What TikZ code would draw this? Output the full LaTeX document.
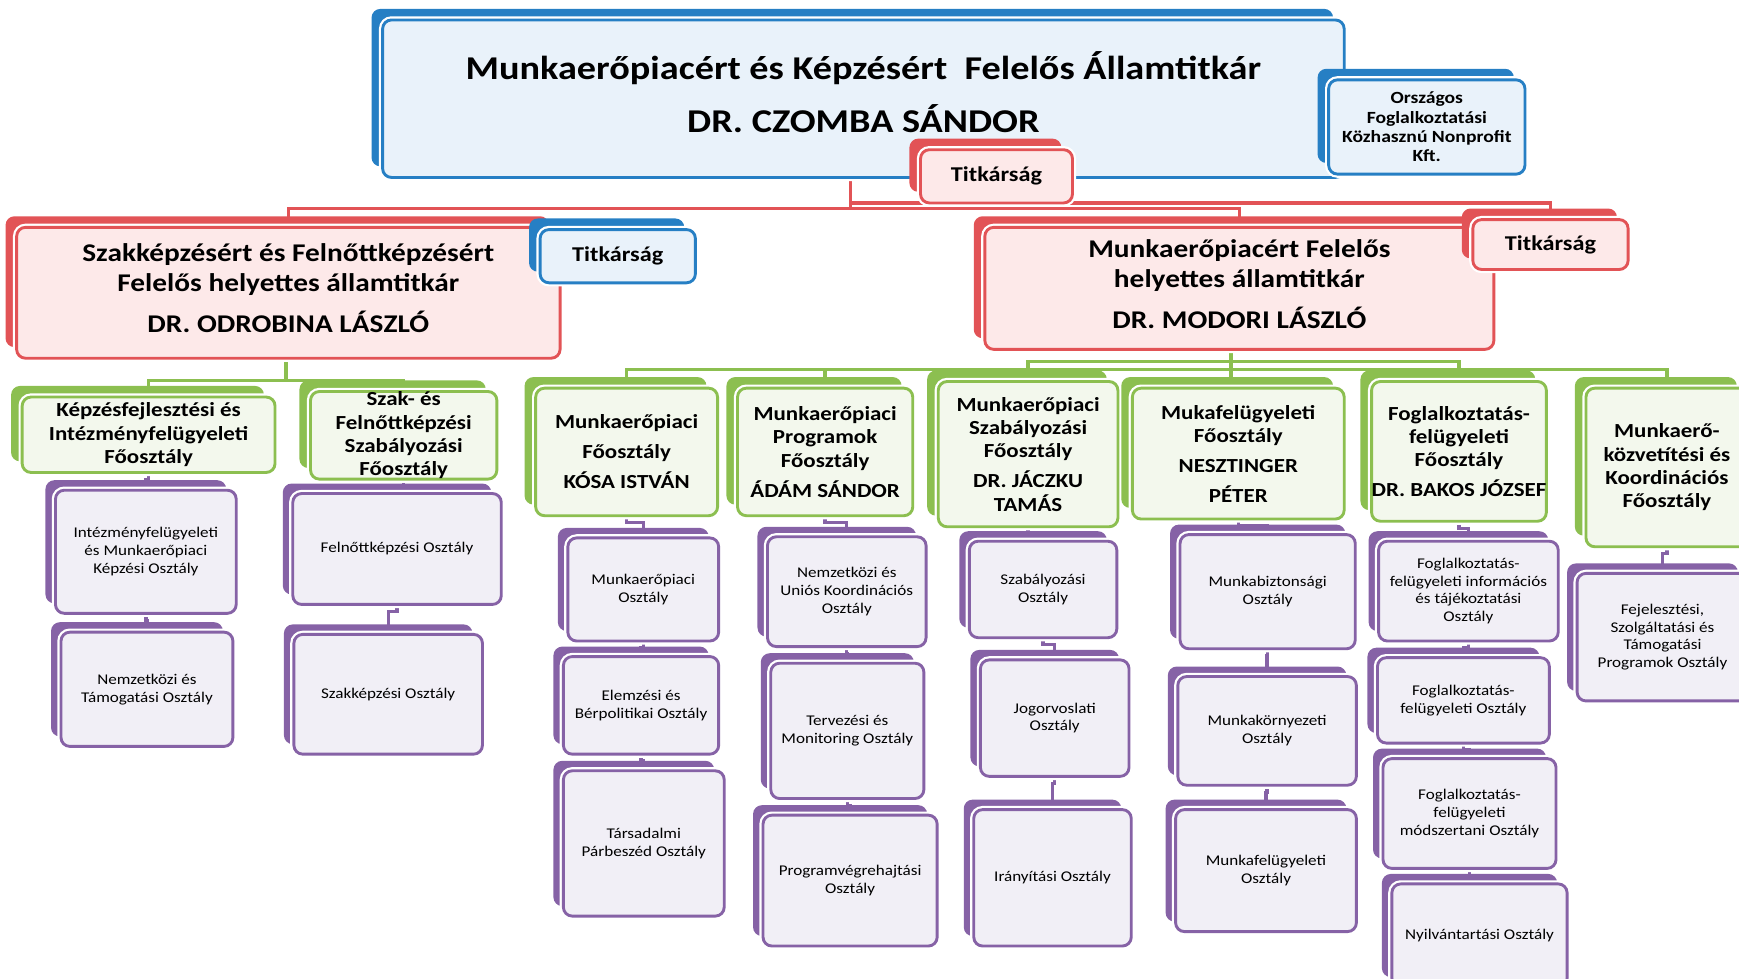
\documentclass[tikz,border=0pt]{standalone}
\usepackage{fontspec}
\setmainfont{Carlito}[FakeStretch=1.15]
\usetikzlibrary{shadows,backgrounds}

\definecolor{cblue}{RGB}{38,127,196}
\definecolor{cred}{RGB}{226,83,86}
\definecolor{cgreen}{RGB}{140,191,80}
\definecolor{cpurple}{RGB}{134,98,166}
\definecolor{fblue}{RGB}{233,242,250}
\definecolor{fred}{RGB}{253,233,233}
\definecolor{fgreen}{RGB}{243,248,237}
\definecolor{fpurple}{RGB}{241,239,246}

\tikzset{every picture/.style={line width=0.75pt}}
\tikzset{
  boxat/.style n args={4}{at={({(#1+#3)/2},{(#2+#4)/2})},
    minimum width={(#3-#1)*0.5pt}, minimum height={(#4-#2)*0.5pt}},
  box/.style={rounded corners=4pt, inner sep=0pt, align=center, line width=1.3pt,
    preaction={draw=white, line width=3.3pt}},
  bluebox/.style={general shadow={fill=cblue, shadow xshift=-5pt, shadow yshift=5pt}, box, draw=cblue, fill=fblue},
  redbox/.style={general shadow={fill=cred, shadow xshift=-5pt, shadow yshift=5pt}, box, draw=cred, fill=fred},
  greenbox/.style={general shadow={fill=cgreen, shadow xshift=-5pt, shadow yshift=5pt}, box, draw=cgreen, fill=fgreen,
    font=\fontsize{9}{10.5}\selectfont\bfseries},
  purplebox/.style={general shadow={fill=cpurple, shadow xshift=-4.5pt, shadow yshift=4.5pt}, box, draw=cpurple, fill=fpurple,
    font=\fontsize{6.7}{8}\selectfont},
  titkbox/.style={font=\fontsize{9.5}{11}\selectfont\bfseries},
  redline/.style={draw=cred, line width=1.6pt},
  greenline/.style={draw=cgreen, line width=1.6pt},
  purpleline/.style={draw=cpurple, line width=1.5pt}
}

\begin{document}
\begin{tikzpicture}[x=0.5pt,y=0.5pt,yscale=-1,xscale=1]
\useasboundingbox (0,0) rectangle (1568,882);

% Allamtitkar
\node[bluebox, boxat={345}{18}{1212}{160}, font=\fontsize{15}{24}\selectfont\bfseries] (allam) {Munkaerőpiacért és Képzésért~ Felelős Államtitkár\\ DR. CZOMBA SÁNDOR\rule[-6pt]{0pt}{6pt}};
\node[redbox, titkbox, boxat={830}{135}{967}{183}] (titk0) {Titkárság};
\node[bluebox, boxat={1198}{72}{1375}{157}, font=\fontsize{7.7}{8.7}\selectfont\bfseries] (ofk) {Országos\\ Foglalkoztatási\\ Közhasznú Nonprofit\\ Kft.};

% helyettes allamtitkarok
\node[redbox, boxat={15}{205}{505}{323}, font=\fontsize{11.5}{13.5}\selectfont\bfseries] (szfh) {Szakképzésért és Felnőttképzésért\\ Felelős helyettes államtitkár\\[5pt] DR. ODROBINA LÁSZLÓ\rule[-4pt]{0pt}{4pt}};
\node[bluebox, titkbox, boxat={487}{207}{627}{255}] (titk1) {Titkárság};
\node[redbox, boxat={888}{205}{1347}{315}, font=\fontsize{11.5}{13.5}\selectfont\bfseries] (mfh) {Munkaerőpiacért Felelős\\ helyettes államtitkár\\[5pt] DR. MODORI LÁSZLÓ\rule[-4pt]{0pt}{4pt}};
\node[redbox, titkbox, boxat={1328}{198}{1468}{243}] (titk2) {Titkárság};

% Foosztalyok
\node[greenbox, boxat={20}{358}{248}{426}] (kif) {Képzésfejlesztési és\\ Intézményfelügyeleti\\ Főosztály};
\node[greenbox, boxat={280}{353}{448}{432}] (szfsz) {Szak- és\\ Felnőttképzési\\ Szabályozási\\ Főosztály};
\node[greenbox, boxat={483}{350}{647}{465}] (mpf) {Munkaerőpiaci\\[3pt] Főosztály\\[3pt] KÓSA ISTVÁN};
\node[greenbox, boxat={665}{350}{823}{465}] (mppf) {Munkaerőpiaci\\ Programok\\ Főosztály\\[3pt] ÁDÁM SÁNDOR};
\node[greenbox, boxat={846}{344}{1008}{475}] (mszf) {Munkaerőpiaci\\ Szabályozási\\ Főosztály\\[3pt] DR. JÁCZKU\\ TAMÁS};
\node[greenbox, boxat={1021}{350}{1212}{468}] (mfef) {Mukafelügyeleti\\ Főosztály\\[3pt] NESZTINGER\\[3pt] PÉTER};
\node[greenbox, boxat={1238}{344}{1393}{470}] (ffef) {Foglalkoztatás-\\ felügyeleti\\ Főosztály\\[3pt] DR. BAKOS JÓZSEF};
\node[greenbox, boxat={1430}{350}{1576}{493}] (mkkf) {Munkaerő-\\ közvetítési és\\ Koordinációs\\ Főosztály};

% Osztalyok
\node[purplebox, boxat={50}{442}{213}{553}] (imk) {Intézményfelügyeleti\\ és Munkaerőpiaci\\ Képzési Osztály};
\node[purplebox, boxat={55}{570}{210}{673}] (ntk) {Nemzetközi és\\ Támogatási Osztály};
\node[purplebox, boxat={264}{445}{452}{545}] (fko) {Felnőttképzési Osztály};
\node[purplebox, boxat={265}{572}{435}{680}] (szko) {Szakképzési Osztály};
\node[purplebox, boxat={512}{485}{648}{578}] (mpo) {Munkaerőpiaci\\ Osztály};
\node[purplebox, boxat={508}{592}{648}{680}] (ebo) {Elemzési és\\ Bérpolitikai Osztály};
\node[purplebox, boxat={508}{695}{653}{826}] (tpo) {Társadalmi\\ Párbeszéd Osztály};
\node[purplebox, boxat={692}{484}{835}{583}] (nuko) {Nemzetközi és\\ Uniós Koordinációs\\ Osztály};
\node[purplebox, boxat={695}{598}{833}{720}] (tmo) {Tervezési és\\ Monitoring Osztály};
\node[purplebox, boxat={688}{735}{845}{853}] (pvo) {Programvégrehajtási\\ Osztály};
\node[purplebox, boxat={874}{488}{1007}{575}] (szo) {Szabályozási\\ Osztály};
\node[purplebox, boxat={884}{595}{1018}{700}] (jo) {Jogorvoslati\\ Osztály};
\node[purplebox, boxat={878}{730}{1020}{853}] (io) {Irányítási Osztály};
\node[purplebox, boxat={1064}{482}{1222}{585}] (mbo) {Munkabiztonsági\\ Osztály};
\node[purplebox, boxat={1062}{610}{1223}{708}] (mko) {Munkakörnyezeti\\ Osztály};
\node[purplebox, boxat={1060}{730}{1223}{840}] (mfo) {Munkafelügyeleti\\ Osztály};
\node[purplebox, boxat={1243}{488}{1405}{578}] (fitto) {Foglalkoztatás-\\ felügyeleti információs\\ és tájékoztatási\\ Osztály};
\node[purplebox, boxat={1242}{593}{1397}{670}] (ffo) {Foglalkoztatás-\\ felügyeleti Osztály};
\node[purplebox, boxat={1247}{684}{1403}{783}] (fmo) {Foglalkoztatás-\\ felügyeleti\\ módszertani Osztály};
\node[purplebox, boxat={1255}{797}{1413}{890}] (nyo) {Nyilvántartási Osztály};
\node[purplebox, boxat={1422}{517}{1576}{632}] (fszto) {Fejelesztési,\\ Szolgáltatási és\\ Támogatási\\ Programok Osztály};

% Connectors
\begin{scope}[on background layer]
\coordinate (rbus) at (767,188);
\draw[redline] (allam.south -| rbus) -- (rbus);
\draw[redline] (szfh.north) |- (rbus) -| (mfh.north);
\draw[redline] (rbus) ++(0,-5) -| (titk2.north);
\coordinate (gbus) at (258,343);
\draw[greenline] (szfh.south -| gbus) -- (gbus);
\draw[greenline] (kif.north) |- (gbus) -| (szfsz.north);
\coordinate (gbus1) at (1110,333);
\coordinate (gbus2) at (1110,326);
\draw[greenline] (mfh.south -| gbus1) -- (mfef.north -| gbus1);
\draw[greenline] (mpf.north) |- (gbus1) -| (mkkf.north);
\draw[greenline] (mppf.north) -- (mppf.north |- gbus1);
\draw[greenline] (mszf.north) |- (gbus2) -| (ffef.north);
\foreach \a/\b in {kif/imk, imk/ntk, szfsz/fko, fko/szko, mpf/mpo, mpo/ebo, ebo/tpo,
  mppf/nuko, nuko/tmo, tmo/pvo, mszf/szo, szo/jo, jo/io, mfef/mbo, mbo/mko, mko/mfo,
  ffef/fitto, fitto/ffo, ffo/fmo, fmo/nyo, mkkf/fszto}
  \draw[purpleline] (\a.south) -- ++(0,5) -| (\b.north);
\end{scope}

\end{tikzpicture}
\end{document}
